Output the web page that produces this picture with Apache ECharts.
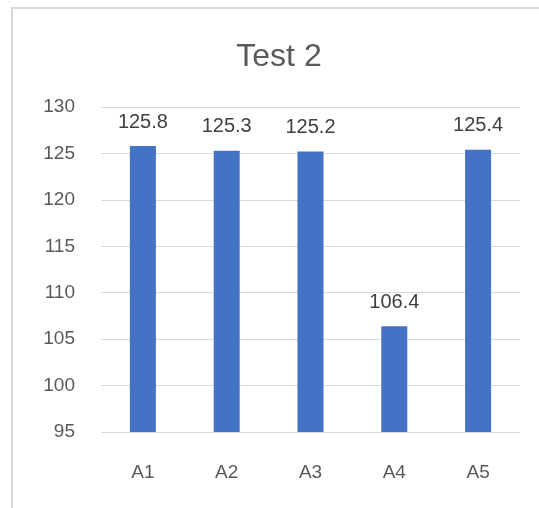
<!DOCTYPE html>
<html><head><meta charset="utf-8">
<script src="https://cdn.jsdelivr.net/npm/echarts@6/dist/echarts.min.js"></script>
<style>html,body{margin:0;padding:0;background:#fff}#c{width:539px;height:508px}</style>
</head><body><div id="c"></div>
<script>
const categories = ['A1','A2','A3','A4','A5'];
const values = [125.8, 125.3, 125.2, 106.4, 125.4];
const yTicks = [95, 130, 5];
const chart = echarts.init(document.getElementById('c'));
const font = 'Liberation Sans, Arial, sans-serif';
chart.setOption({
  animation: false,
  title: { text: 'Test 2', left: 274, textAlign: 'center', top: 36, textStyle: { fontFamily: font, fontSize: 32, fontWeight: 'normal', color: '#595959' } },
  graphic: [{ type: 'rect', shape: { x: 12, y: 8, width: 700, height: 700 }, style: { fill: 'none', stroke: '#d9d9d9', lineWidth: 2 }, silent: true }],
  grid: { left: 101, right: 19, top: 107, bottom: 76 },
  xAxis: { type: 'category', data: categories, axisLine: { show: false }, axisTick: { show: false },
    axisLabel: { fontFamily: font, fontSize: 19, color: '#595959', margin: 31 } },
  yAxis: { type: 'value', min: yTicks[0], max: yTicks[1], interval: yTicks[2],
    axisLine: { show: false }, axisTick: { show: false },
    splitLine: { lineStyle: { color: '#d9d9d9', width: 1 } },
    axisLabel: { fontFamily: font, fontSize: 19, color: '#595959', margin: 26 } },
  series: [{ type: 'bar', data: values, barWidth: 26, itemStyle: { color: '#4472c4' },
    label: { show: true, position: 'top', distance: 14, fontFamily: font, fontSize: 20, color: '#404040', formatter: p => p.value.toFixed(1) } }]
});
</script></body></html>
